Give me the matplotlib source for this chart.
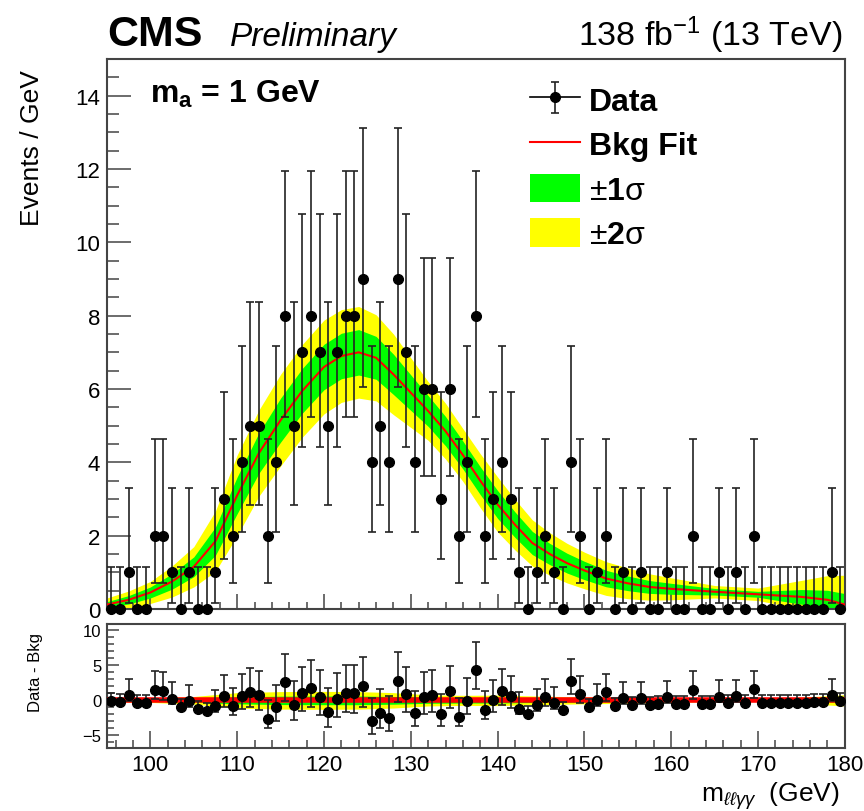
import numpy as np
import matplotlib
matplotlib.use("Agg")
from matplotlib import pyplot as plt
from matplotlib.lines import Line2D
from matplotlib.patches import Patch
from matplotlib.ticker import MultipleLocator

plt.rcParams['font.family'] = ['Liberation Sans', 'DejaVu Sans']
plt.rcParams['mathtext.fontset'] = 'custom'
plt.rcParams['mathtext.rm'] = 'Liberation Sans'
plt.rcParams['mathtext.it'] = 'Liberation Sans:italic'
plt.rcParams['mathtext.bf'] = 'Liberation Sans:bold'

# binned data, 1 GeV bins from 95 to 180
bin_lo = 95
bin_hi = 180
counts = [0, 0, 1, 0, 0, 2, 2, 1, 0, 1,
          0, 0, 1, 3, 2, 4, 5, 5, 2, 4,
          8, 5, 7, 8, 7, 5, 7, 8, 8, 9,
          4, 5, 4, 9, 7, 4, 6, 6, 3, 6,
          2, 4, 8, 2, 3, 4, 3, 1, 0, 1,
          2, 1, 0, 4, 2, 0, 1, 2, 0, 1,
          0, 1, 0, 0, 1, 0, 0, 2, 0, 0,
          1, 0, 1, 0, 2, 0, 0, 0, 0, 0,
          0, 0, 0, 1, 0]

# Poisson (Garwood) 68% interval edges for n = 0..9, as RooFit draws them
pois_low = [0.0, 0.173, 0.708, 1.367, 2.086, 2.840, 3.620, 4.418, 5.231, 6.056]
pois_high = [1.148, 3.300, 4.638, 5.918, 7.163, 8.382, 9.585, 10.774, 11.954, 13.123]

# background fit curve
fit_x = [95, 97.5, 100, 102.5, 105, 107.5, 110, 112.5, 115, 117.5, 120, 122, 124,
         126, 128, 130, 132, 134, 136, 138, 140, 142, 144, 146, 148, 150, 152.5,
         155, 157.5, 160, 165, 170, 175, 178, 180]
fit_y = [0.12, 0.25, 0.45, 0.75, 1.15, 1.85, 3.1, 4.25, 5.15, 5.95, 6.6, 6.9, 7.0,
         6.85, 6.4, 5.9, 5.4, 4.85, 4.2, 3.5, 2.85, 2.3, 1.8, 1.5, 1.25, 1.05, 0.83,
         0.7, 0.6, 0.55, 0.47, 0.4, 0.33, 0.25, 0.12]

# half widths of the 1 and 2 sigma bands
band_x = [95, 100, 105, 110, 115, 120, 124, 128, 132, 136, 140, 145, 150, 155, 160,
          165, 170, 175, 180]
sig1 = [0.08, 0.15, 0.27, 0.5, 0.6, 0.62, 0.62, 0.55, 0.42, 0.38, 0.38, 0.3, 0.25,
        0.2, 0.15, 0.09, 0.08, 0.2, 0.3]
sig2 = [0.18, 0.3, 0.55, 1.1, 1.25, 1.28, 1.25, 1.1, 0.8, 0.72, 0.75, 0.6, 0.5,
        0.42, 0.3, 0.17, 0.17, 0.45, 0.8]

GREEN = '#00ff00'
YELLOW = '#ffff00'
RED = '#ff0000'
FRAME = '#444444'


def style_axis(ax):
    for s in ax.spines.values():
        s.set_color(FRAME)
        s.set_linewidth(1.5)
    ax.tick_params(which='both', direction='in', color=FRAME, width=1.1,
                   top=False, right=False)


def main():
    centers = np.arange(bin_lo, bin_hi) + 0.5
    n = np.array(counts)
    err_lo = n - np.array([pois_low[k] for k in n])
    err_hi = np.array([pois_high[k] for k in n]) - n

    fx = np.array(fit_x)
    fy = np.array(fit_y)
    s1 = np.interp(fx, band_x, sig1)
    s2 = np.interp(fx, band_x, sig2)
    bkg = np.interp(centers, fx, fy)

    fig = plt.figure(figsize=(8.64, 8.12), dpi=100)
    ax = fig.add_axes([0.1238, 0.2488, 0.854, 0.6773])
    rax = fig.add_axes([0.1238, 0.0776, 0.854, 0.1527])

    # main panel
    ax.fill_between(fx, np.clip(fy - s2, 0, None), fy + s2, color=YELLOW, lw=0, zorder=1)
    ax.fill_between(fx, np.clip(fy - s1, 0, None), fy + s1, color=GREEN, lw=0, zorder=2)
    ax.plot(fx, fy, color=RED, lw=1.5, zorder=3)
    eb = ax.errorbar(centers, n, yerr=[err_lo, err_hi], fmt='o', color='black',
                     ms=7, ecolor='#222222', elinewidth=1.2, capsize=2.8,
                     capthick=1.2, zorder=4)
    for art in eb.get_children():
        art.set_clip_on(False)

    ax.set_xlim(bin_lo, bin_hi)
    ax.set_ylim(0, 15)
    ax.xaxis.set_major_locator(MultipleLocator(10))
    ax.xaxis.set_minor_locator(MultipleLocator(2))
    ax.yaxis.set_major_locator(MultipleLocator(2))
    ax.yaxis.set_minor_locator(MultipleLocator(0.5))
    style_axis(ax)
    ax.tick_params(axis='y', which='major', length=17, labelsize=16, pad=5)
    ax.tick_params(axis='y', which='minor', length=8.6)
    ax.tick_params(axis='x', which='major', length=10.8, labelbottom=False)
    ax.tick_params(axis='x', which='minor', length=5)
    ax.set_ylabel('Events / GeV', fontsize=19, loc='top')
    ax.yaxis.set_label_coords(-0.085, 0.982)

    ax.text(0.058, 0.922, r'm$_\mathbf{a}$ = 1 GeV', transform=ax.transAxes,
            fontsize=23, fontweight='bold', va='baseline')

    data_handle = (Line2D([], [], color='black', lw=1.2), eb)
    handles = [data_handle,
               Line2D([], [], color=RED, lw=1.5),
               Patch(facecolor=GREEN, lw=0),
               Patch(facecolor=YELLOW, lw=0)]
    labels = ['Data', 'Bkg Fit', r'±$\mathbf{1}$σ', r'±$\mathbf{2}$σ']
    leg = ax.legend(handles, labels, loc='upper left', bbox_to_anchor=(0.573, 0.953),
                    frameon=False, borderpad=0, borderaxespad=0,
                    prop={'size': 23}, handlelength=1.56,
                    handleheight=1.0, handletextpad=0.3, labelspacing=0.38)
    for t in leg.get_texts()[:2]:
        t.set_fontweight('bold')

    # lower panel: data minus background
    rax.fill_between(fx, -s2, s2, color=YELLOW, lw=0, zorder=1)
    rax.fill_between(fx, -s1, s1, color=GREEN, lw=0, zorder=2)
    rax.plot(fx, np.zeros_like(fx), color=RED, lw=4, zorder=3)
    rax.errorbar(centers, n - bkg, yerr=[err_lo, err_hi], fmt='o', color='black',
                 ms=7, ecolor='#222222', elinewidth=1.2, capsize=2.8,
                 capthick=1.2, zorder=4)
    rax.set_xlim(bin_lo, bin_hi)
    rax.set_ylim(-6.8, 10.9)
    rax.xaxis.set_major_locator(MultipleLocator(10))
    rax.xaxis.set_minor_locator(MultipleLocator(2))
    rax.yaxis.set_major_locator(MultipleLocator(5))
    rax.yaxis.set_minor_locator(MultipleLocator(1))
    style_axis(rax)
    rax.tick_params(axis='x', which='major', length=12, labelsize=16, pad=4)
    rax.tick_params(axis='x', which='minor', length=6)
    rax.tick_params(axis='y', which='major', length=8.4, labelsize=12, pad=4)
    rax.tick_params(axis='y', which='minor', length=5)
    rax.set_ylabel('Data - Bkg', fontsize=12)
    rax.yaxis.set_label_coords(-0.087, 0.62)
    rax.set_xlabel(r'm$_{\ell\ell\gamma\gamma}$  (GeV)', fontsize=19, loc='right')
    rax.xaxis.set_label_coords(0.993, -0.25)

    # header
    fig.text(107 / 864, 1 - 46 / 812, 'CMS', fontsize=31, fontweight='bold', va='baseline')
    fig.text(230 / 864, 1 - 46 / 812, 'Preliminary', fontsize=24, style='italic',
             va='baseline')
    fig.text(843 / 864, 1 - 46 / 812, r'138 fb$^{-1}$ (13 TeV)', fontsize=24.5,
             ha='right', va='baseline')

    fig.savefig('out.png', dpi=100)


if __name__ == "__main__":
    main()
